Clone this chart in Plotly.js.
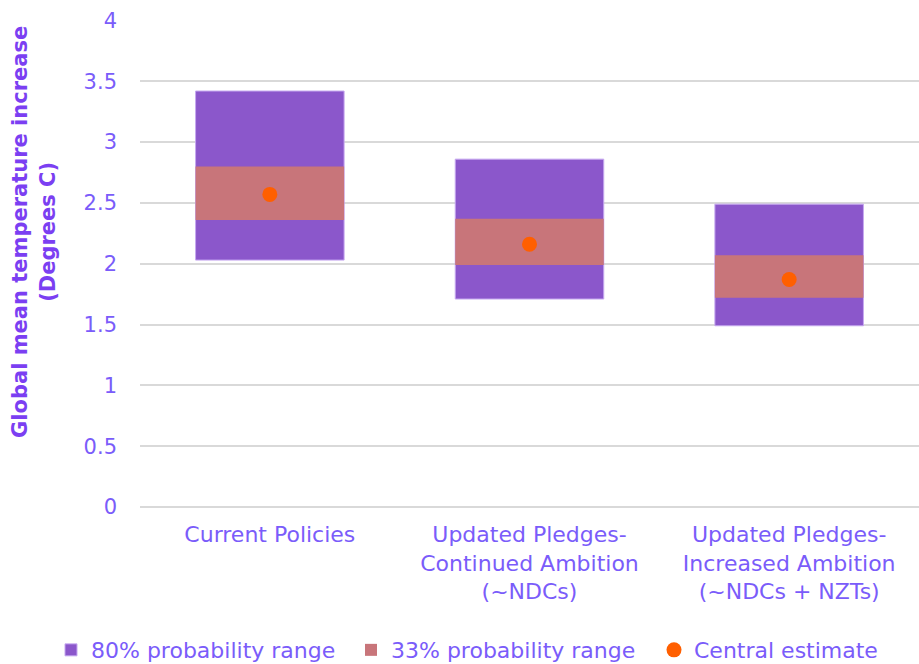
<!DOCTYPE html>
<html>
<head>
<meta charset="utf-8">
<script src="https://cdn.plot.ly/plotly-3.0.1.min.js"></script>
<style>html,body{margin:0;padding:0;background:#fff;}#chart{width:919px;height:664px;}</style>
</head>
<body>
<div id="chart"></div>
<script>
const categories = ["Current Policies", "Updated Pledges-<br>Continued Ambition<br>(~NDCs)", "Updated Pledges-<br>Increased Ambition<br>(~NDCs + NZTs)"];
const range80Low = [2.03, 1.71, 1.49];
const range80High = [3.42, 2.86, 2.49];
const range33Low = [2.36, 1.99, 1.72];
const range33High = [2.80, 2.37, 2.07];
const central = [2.57, 2.16, 1.87];
const yTicks = [0, 0.5, 1, 1.5, 2, 2.5, 3, 3.5, 4];
const yTitle = "<b>Global mean temperature increase<br>(Degrees C)</b>";

const textColor = "#7A5CFA";
const font = "'DejaVu Sans', sans-serif";

const traces = [
  {
    type: "bar", name: "80% probability range", x: categories,
    base: range80Low, y: range80High.map((h, i) => h - range80Low[i]),
    width: 0.572, legend: "legend",
    marker: {color: "#8B57CB", line: {color: "#C6A8F0", width: 1}},
    hoverinfo: "skip"
  },
  {
    type: "bar", name: "33% probability range", x: categories,
    base: range33Low, y: range33High.map((h, i) => h - range33Low[i]),
    width: 0.572, legend: "legend2",
    marker: {color: "#C8757A", line: {width: 0}},
    hoverinfo: "skip"
  },
  {
    type: "scatter", mode: "markers", name: "Central estimate", x: categories, y: central,
    legend: "legend3",
    marker: {color: "#FF5F00", size: 15}
  }
];

function leg(xpx) {
  return {orientation: "h", xref: "container", yref: "container",
          x: xpx / 919, xanchor: "left", y: 0.021, yanchor: "middle",
          font: {size: 22, color: textColor, family: font}, itemwidth: 30,
          bgcolor: "rgba(0,0,0,0)"};
}

const layout = {
  width: 919, height: 664,
  margin: {l: 140, r: 0, t: 20, b: 157, autoexpand: false},
  paper_bgcolor: "#fff", plot_bgcolor: "#fff",
  barmode: "overlay",
  font: {family: font, color: textColor, size: 21},
  showlegend: true,
  legend: leg(51),
  legend2: leg(351),
  legend3: leg(654),
  xaxis: {
    type: "category", showgrid: false, zeroline: false, showline: false,
    tickfont: {size: 22, color: textColor}, ticks: "", range: [-0.5, 2.5],
    automargin: false, ticklabelstandoff: 12
  },
  yaxis: {
    range: [0, 4.004], tickvals: yTicks, ticktext: yTicks.map(String),
    showgrid: true, gridcolor: "#D9D9D9", gridwidth: 2,
    zeroline: true, zerolinecolor: "#D9D9D9", zerolinewidth: 2,
    tickfont: {size: 21, color: textColor}, ticks: "", ticklen: 0,
    automargin: false, ticklabelstandoff: 22
  },
  annotations: [{
    text: yTitle, textangle: -90, showarrow: false,
    xref: "paper", yref: "paper", x: -0.136, y: 0.565,
    xanchor: "center", yanchor: "middle",
    font: {size: 21, color: "#7B3FF2", family: font}
  }]
};

Plotly.newPlot("chart", traces, layout, {displayModeBar: false, staticPlot: true});
</script>
</body>
</html>
